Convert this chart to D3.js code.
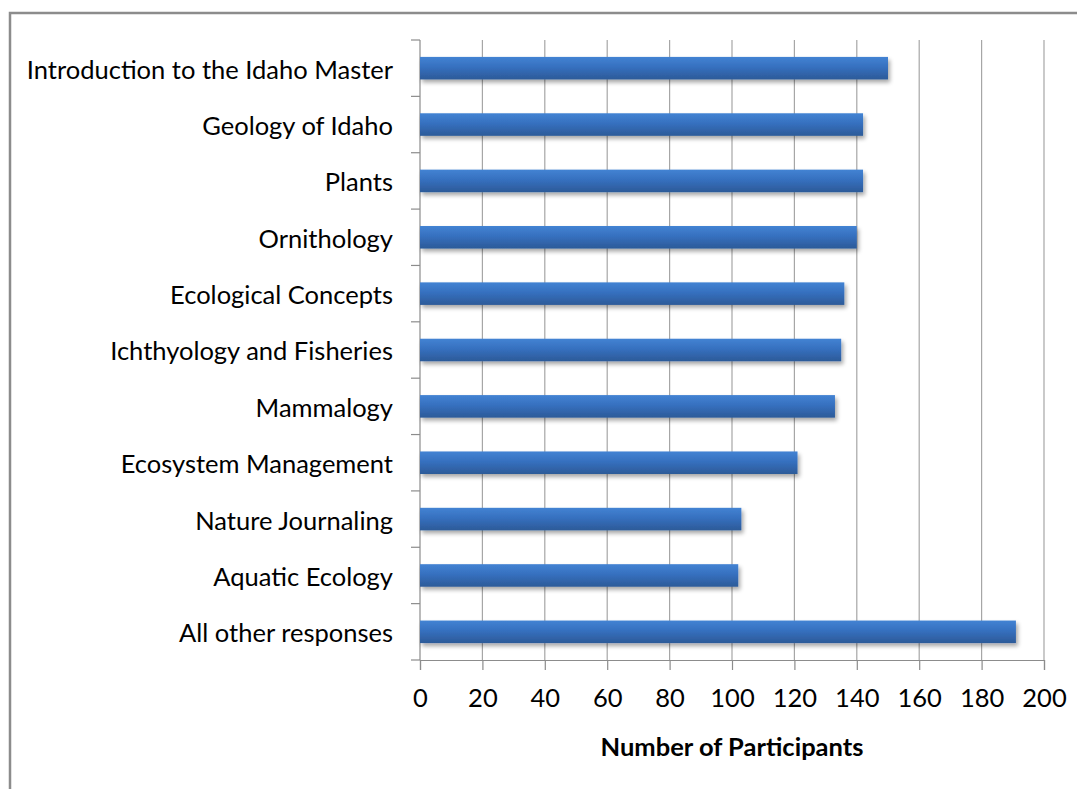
<!DOCTYPE html>
<html>
<head>
<meta charset="utf-8">
<script src="https://cdn.jsdelivr.net/npm/d3@7"></script>
<style>
  html, body { margin: 0; padding: 0; background: #fff; }
  svg { display: block; }
</style>
</head>
<body>
<svg id="chart" width="1077" height="789"></svg>
<script>
// Course topics, top to bottom, and number of participants for each
const categories = [
  "Introduction to the Idaho Master",
  "Geology of Idaho",
  "Plants",
  "Ornithology",
  "Ecological Concepts",
  "Ichthyology and Fisheries",
  "Mammalogy",
  "Ecosystem Management",
  "Nature Journaling",
  "Aquatic Ecology",
  "All other responses"
];
const participants = [150, 142, 142, 140, 136, 135, 133, 121, 103, 102, 191];
const xTicks = [0, 20, 40, 60, 80, 100, 120, 140, 160, 180, 200];
const xTitle = "Number of Participants";

const svg = d3.select("#chart");
const W = 1077, H = 789;
const m = { left: 420, right: 1044, top: 40, bottom: 660 };
const font = "Lato, 'Open Sans', sans-serif";

// Outer frame
svg.append("rect")
  .attr("x", 10).attr("y", 13)
  .attr("width", W + 10).attr("height", H + 10)
  .attr("fill", "#fff").attr("stroke", "#8c8c8c").attr("stroke-width", 2.5);

const x = d3.scaleLinear().domain([0, 200]).range([m.left, m.right]);
const y = d3.scaleBand().domain(categories).range([m.top, m.bottom]).paddingInner(0.6).paddingOuter(0.3);

// Bar gradient and soft shadow
const defs = svg.append("defs");
const grad = defs.append("linearGradient").attr("id", "barGrad")
  .attr("x1", 0).attr("y1", 0).attr("x2", 0).attr("y2", 1);
grad.append("stop").attr("offset", "0%").attr("stop-color", "#4383d3");
grad.append("stop").attr("offset", "45%").attr("stop-color", "#3670bf");
grad.append("stop").attr("offset", "100%").attr("stop-color", "#2c5a98");

const shadow = defs.append("filter").attr("id", "barShadow")
  .attr("x", "-5%").attr("y", "-40%").attr("width", "110%").attr("height", "200%");
shadow.append("feGaussianBlur").attr("in", "SourceAlpha").attr("stdDeviation", 2.2).attr("result", "blur");
shadow.append("feOffset").attr("in", "blur").attr("dx", 1.5).attr("dy", 3).attr("result", "off");
shadow.append("feComponentTransfer").attr("in", "off").attr("result", "shade")
  .append("feFuncA").attr("type", "linear").attr("slope", 0.35);
const merge = shadow.append("feMerge");
merge.append("feMergeNode").attr("in", "shade");
merge.append("feMergeNode").attr("in", "SourceGraphic");

// Vertical gridlines
svg.append("g")
  .selectAll("line")
  .data(xTicks.filter(d => d > 0))
  .join("line")
  .attr("x1", d => x(d)).attr("x2", d => x(d))
  .attr("y1", m.top).attr("y2", m.bottom)
  .attr("stroke", "#a6a6a6").attr("stroke-width", 1.2);

// Bottom axis
const xAxis = svg.append("g")
  .attr("transform", `translate(0,${m.bottom})`)
  .call(d3.axisBottom(x).tickValues(xTicks).tickSize(10).tickPadding(19));
xAxis.select(".domain").attr("stroke", "#8c8c8c").attr("stroke-width", 1.2);
xAxis.selectAll(".tick line").attr("stroke", "#8c8c8c").attr("stroke-width", 1.2);
xAxis.selectAll(".tick text")
  .attr("fill", "#000").style("font-family", font).style("font-size", "25.5px");

// Left axis with tick marks between categories
const yAxisG = svg.append("g").attr("transform", `translate(${m.left},0)`);
yAxisG.append("line")
  .attr("x1", 0).attr("x2", 0).attr("y1", m.top).attr("y2", m.bottom)
  .attr("stroke", "#8c8c8c").attr("stroke-width", 1.2);
const step = (m.bottom - m.top) / categories.length;
yAxisG.selectAll("line.sep")
  .data(d3.range(categories.length + 1))
  .join("line").attr("class", "sep")
  .attr("x1", -9).attr("x2", 0)
  .attr("y1", i => m.top + i * step).attr("y2", i => m.top + i * step)
  .attr("stroke", "#8c8c8c").attr("stroke-width", 1.2);

// Category labels
svg.append("g")
  .selectAll("text")
  .data(categories)
  .join("text")
  .attr("x", 393)
  .attr("y", d => y(d) + y.bandwidth() / 2 + 1.5)
  .attr("dy", "0.35em")
  .attr("text-anchor", "end")
  .style("font-family", font).style("font-size", "25.5px")
  .attr("fill", "#000")
  .text(d => d);

// Bars
svg.append("g")
  .selectAll("rect")
  .data(categories)
  .join("rect")
  .attr("x", x(0))
  .attr("y", d => y(d))
  .attr("width", (d, i) => x(participants[i]) - x(0))
  .attr("height", y.bandwidth())
  .attr("fill", "url(#barGrad)")
  .attr("filter", "url(#barShadow)");

// Axis title
svg.append("text")
  .attr("x", (m.left + m.right) / 2)
  .attr("y", 756)
  .attr("text-anchor", "middle")
  .style("font-family", font).style("font-size", "25.5px").style("font-weight", "bold")
  .attr("fill", "#000")
  .text(xTitle);
</script>
</body>
</html>
